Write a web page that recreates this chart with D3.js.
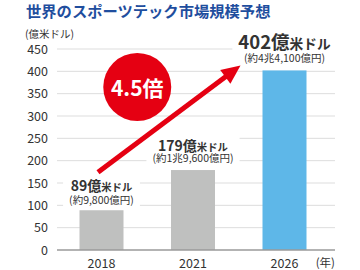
<!DOCTYPE html>
<html>
<head>
<meta charset="utf-8">
<script src="https://cdn.jsdelivr.net/npm/d3@7/dist/d3.min.js"></script>
<style>
  body { margin: 0; background: #fff; }
  svg { display: block; font-family: "Noto Sans CJK JP", "Noto Sans", sans-serif; }
</style>
</head>
<body>
<script>
// data
var years = ["2018", "2021", "2026"]
var values = [89, 179, 402]
var yenLabels = ["(約9,800億円)", "(約1兆9,600億円)", "(約4兆4,100億円)"]
var yTicks = [0, 50, 100, 150, 200, 250, 300, 350, 400, 450]
var barColors = ["#bfc0bf", "#bfc0bf", "#5eb7e8"]

var width = 360, height = 270
var red = "#e50012"

var svg = d3.select("body").append("svg")
    .attr("width", width)
    .attr("height", height)

// scales
var xScale = d3.scalePoint().domain(years).range([101.5, 284.5])
var yScale = d3.scaleLinear().domain([0, 450]).range([250, 49])
var barW = 44
var gridLeft = 57, gridRight = 335

// title
svg.append("text")
    .attr("x", 26)
    .attr("y", 11)
    .attr("dy", "0.36em")
    .style("font-size", "15.3px")
    .style("font-weight", 700)
    .style("fill", "#1f4e9e")
    .text("世界のスポーツテック市場規模予想")

// unit
svg.append("text")
    .attr("x", 25)
    .attr("y", 34)
    .attr("dy", "0.36em")
    .style("font-size", "10.5px")
    .style("fill", "#333")
    .text("(億米ドル)")

// grid lines
svg.append("g").selectAll("line")
    .data(yTicks.filter(function(d) { return d > 0 }))
  .enter().append("line")
    .attr("x1", gridLeft).attr("x2", gridRight)
    .attr("y1", function(d) { return yScale(d) })
    .attr("y2", function(d) { return yScale(d) })
    .style("stroke", "#dddddd")
    .style("stroke-width", 1)

// y axis labels
var yAxis = svg.append("g")
    .attr("transform", "translate(" + gridLeft + ",0)")
    .call(d3.axisLeft(yScale).tickValues(yTicks).tickSize(0).tickPadding(9))
yAxis.select(".domain").remove()
yAxis.selectAll("text")
    .style("font-family", "'Noto Sans CJK JP', sans-serif")
    .style("font-size", "12.5px")
    .style("fill", "#333")

// bars
svg.append("g").selectAll("rect")
    .data(values)
  .enter().append("rect")
    .attr("x", function(d, i) { return xScale(years[i]) - barW / 2 })
    .attr("y", function(d) { return yScale(d) })
    .attr("width", barW)
    .attr("height", function(d) { return yScale(0) - yScale(d) })
    .style("fill", function(d, i) { return barColors[i] })

// baseline
svg.append("line")
    .attr("x1", gridLeft).attr("x2", gridRight)
    .attr("y1", yScale(0)).attr("y2", yScale(0))
    .style("stroke", "#9a9a9a")
    .style("stroke-width", 1.5)

// x labels
svg.append("g").selectAll("text")
    .data(years)
  .enter().append("text")
    .attr("x", function(d) { return xScale(d) })
    .attr("y", 263)
    .attr("dy", "0.36em")
    .attr("text-anchor", "middle")
    .style("font-size", "12.5px")
    .style("fill", "#333")
    .text(function(d) { return d })

svg.append("text")
    .attr("x", 335)
    .attr("y", 263)
    .attr("dy", "0.36em")
    .attr("text-anchor", "end")
    .style("font-size", "11.5px")
    .style("fill", "#333")
    .text("(年)")

// value labels with white boxes behind
var big = [14, 14, 18.5]
var gap = [25, 25, 27.5]
var sub = [15, 13.5, 15]
values.forEach(function(v, i) {
  var cx = xScale(years[i])
  var yTop = yScale(v) - gap[i]
  var g = svg.append("g")
  var box = g.append("rect").style("fill", "#fff")
  var t1 = g.append("text")
      .attr("x", cx)
      .attr("y", yTop)
      .attr("dy", "0.36em")
      .attr("text-anchor", "middle")
      .style("font-weight", 700)
      .style("fill", "#333")
  t1.append("tspan").style("font-size", big[i] + "px").text(v + "億")
  t1.append("tspan").style("font-size", (big[i] * 0.74) + "px").text("米ドル")
  var t2 = g.append("text")
      .attr("x", cx)
      .attr("y", yTop + sub[i])
      .attr("dy", "0.36em")
      .attr("text-anchor", "middle")
      .style("font-size", "10.5px")
      .style("fill", "#333")
      .text(yenLabels[i])
  var b1 = t1.node().getBBox(), b2 = t2.node().getBBox()
  var x0 = Math.min(b1.x, b2.x) - 6, x1 = Math.max(b1.x + b1.width, b2.x + b2.width) + 6
  box.attr("x", x0).attr("y", b1.y + 1)
     .attr("width", x1 - x0)
     .attr("height", b2.y + b2.height - b1.y - 2)
})

// arrow from 2018 label to 2026 label
var x0 = xScale("2018") - 3.5, y0 = yScale(values[0]) - 38
var x1 = xScale("2026") - 44, y1 = yScale(values[2]) - 5
var ang = Math.atan2(y1 - y0, x1 - x0)
var headL = 19, headW = 8.5
var bx = x1 - headL * Math.cos(ang), by = y1 - headL * Math.sin(ang)
svg.append("line")
    .attr("x1", x0).attr("y1", y0)
    .attr("x2", bx + 2 * Math.cos(ang)).attr("y2", by + 2 * Math.sin(ang))
    .style("stroke", red)
    .style("stroke-width", 5)
svg.append("path")
    .attr("d", "M" + x1 + "," + y1 +
      "L" + (bx - headW * Math.sin(ang)) + "," + (by + headW * Math.cos(ang)) +
      "L" + (bx + headW * Math.sin(ang)) + "," + (by - headW * Math.cos(ang)) + "Z")
    .style("fill", red)

// 4.5x badge
var ccx = (xScale("2018") + xScale("2021")) / 2 - 10, ccy = yScale(365)
svg.append("circle")
    .attr("cx", ccx).attr("cy", ccy).attr("r", 34)
    .style("fill", red)
svg.append("text")
    .attr("x", ccx)
    .attr("y", ccy + 1)
    .attr("dy", "0.36em")
    .attr("text-anchor", "middle")
    .style("font-size", "21px")
    .style("font-weight", 700)
    .style("fill", "#fff")
    .text("4.5倍")
</script>
</body>
</html>
